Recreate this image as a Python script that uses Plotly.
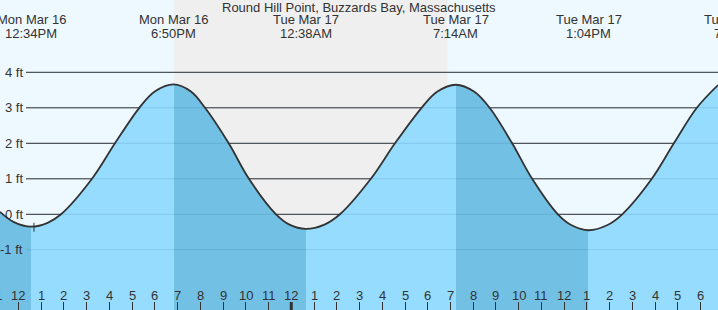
import plotly.graph_objects as go

# ---------------- data ----------------
# tide curve: hours since Mon Mar 16 00:00, height in ft
curve_hours = [11.196, 11.81, 12.567, 13.29, 13.88, 15.24, 16.25, 17.32, 18.00, 18.833,
               19.59, 20.21, 21.25, 22.14, 23.33, 23.92, 24.633, 25.46, 26.14, 27.50,
               28.56, 29.73, 30.41, 31.233, 32.05, 32.72, 33.71, 34.59, 35.72, 36.33,
               37.067, 37.88, 38.55, 39.85, 40.82, 41.83, 42.76]
curve_ft = [0.07, -0.22, -0.35, -0.24, 0.0, 1.0, 2.0, 3.0, 3.46, 3.66,
            3.46, 3.0, 2.0, 1.0, 0.0, -0.29, -0.41, -0.29, 0.0, 1.0,
            2.0, 3.0, 3.45, 3.65, 3.45, 3.0, 2.0, 1.0, 0.0, -0.31,
            -0.45, -0.31, 0.0, 1.0, 2.0, 3.0, 3.64]

# high / low tide events
event_hours = [12.567, 18.833, 24.633, 31.233, 37.067, 43.583]
event_days = ["Mon Mar 16", "Mon Mar 16", "Tue Mar 17", "Tue Mar 17", "Tue Mar 17", "Tue Mar 17"]
event_times = ["12:34PM", "6:50PM", "12:38AM", "7:14AM", "1:04PM", "7:35PM"]

sunset_hour = 18.84
sunrise_hour = 30.87
now_hour = 12.69
now_ft = -0.35

grid_ft = [-1, 0, 1, 2, 3, 4]
grid_labels = ["-1 ft", "0 ft", "1 ft", "2 ft", "3 ft", "4 ft"]

tick_hours = list(range(11, 43))
tick_labels = [str((h - 1) % 12 + 1) for h in tick_hours]
midnight_hour = 24

title_text = "Round Hill Point, Buzzards Bay, Massachusetts"

# ---------------- styling ----------------
W, H = 718, 310
X_RANGE = [11.196, 42.76]
Y_RANGE = [-2.696, 6.037]
BG = "#EEF8FF"
NIGHT = "#EFEFEF"
LIGHT = "#96DCFF"
DARK = "#72C0E4"
TXT = "#333333"
FONT = "Liberation Sans, Arial, sans-serif"
FS = 13


def py(px):
    return 1 - px / H


def pxx(px):
    return px / W


def frac(t):
    return (t - X_RANGE[0]) / (X_RANGE[1] - X_RANGE[0])


# colorscale for falling (dark) / rising (light) water
cs = [[0.0, DARK]]
col = DARK
for t in event_hours:
    if X_RANGE[0] < t < X_RANGE[1]:
        f = frac(t)
        cs.append([f, col])
        col = LIGHT if col == DARK else DARK
        cs.append([f, col])
cs.append([1.0, col])

fig = go.Figure()

# baseline for fill
fig.add_trace(go.Scatter(
    x=[curve_hours[0], curve_hours[-1]], y=[Y_RANGE[0] - 0.5, Y_RANGE[0] - 0.5],
    mode="lines", line=dict(width=0), hoverinfo="skip", showlegend=False))

fig.add_trace(go.Scatter(
    x=curve_hours, y=curve_ft, mode="lines",
    line=dict(color=TXT, width=1.8, shape="spline", smoothing=1.0),
    fill="tonexty",
    fillgradient=dict(type="horizontal", colorscale=cs,
                      start=X_RANGE[0], stop=X_RANGE[1]),
    hoverinfo="skip", showlegend=False))

shapes = []
# night shading
shapes.append(dict(type="rect", xref="x", yref="paper", x0=sunset_hour, x1=sunrise_hour,
                   y0=0, y1=1, fillcolor=NIGHT, line=dict(width=0), layer="below"))
# grid lines
for g in grid_ft:
    shapes.append(dict(type="line", xref="paper", yref="y", x0=pxx(26), x1=1, y0=g, y1=g,
                       line=dict(color=TXT, width=1), layer="below"))
    shapes.append(dict(type="line", xref="paper", yref="y", x0=pxx(26), x1=1, y0=g, y1=g,
                       line=dict(color="rgba(0,60,100,0.12)", width=1), layer="above"))
# midnight tick
shapes.append(dict(type="line", xref="x", yref="paper", x0=midnight_hour, x1=midnight_hour,
                   y0=0, y1=8 / H, line=dict(color=TXT, width=3)))
# current-time marker
shapes.append(dict(type="line", xref="x", yref="y", x0=now_hour, x1=now_hour,
                   y0=now_ft - 0.14, y1=now_ft + 0.11, line=dict(color=TXT, width=1)))

ann = []
ann.append(dict(text=title_text, xref="paper", yref="paper", x=0.5, y=py(7),
                xanchor="center", yanchor="middle", showarrow=False,
                font=dict(family=FONT, size=FS, color=TXT)))
for t, d, tm in zip(event_hours, event_days, event_times):
    if t <= X_RANGE[1]:
        xr, xv = "x", t
    else:
        xr, xv = "paper", frac(t)
    ann.append(dict(text=d, xref=xr, yref="paper", x=xv, y=py(20), xanchor="center",
                    yanchor="middle", showarrow=False, font=dict(family=FONT, size=FS, color=TXT)))
    ann.append(dict(text=tm, xref=xr, yref="paper", x=xv, y=py(33), xanchor="center",
                    yanchor="middle", showarrow=False, font=dict(family=FONT, size=FS, color=TXT)))
for g, lab in zip(grid_ft, grid_labels):
    ann.append(dict(text=lab, xref="paper", yref="y", x=pxx(24.5), y=g, xanchor="right",
                    yanchor="middle", showarrow=False, font=dict(family=FONT, size=FS, color=TXT)))
for h, lab in zip(tick_hours, tick_labels):
    if X_RANGE[0] <= h <= X_RANGE[1]:
        xr, xv = "x", h
    else:
        xr, xv = "paper", frac(h)
    ann.append(dict(text=lab, xref=xr, yref="paper", x=xv, y=py(295.5), xanchor="center",
                    yanchor="middle", showarrow=False, font=dict(family=FONT, size=FS, color=TXT)))

fig.update_layout(
    width=W, height=H, margin=dict(l=0, r=0, t=0, b=0),
    paper_bgcolor=BG, plot_bgcolor=BG,
    shapes=shapes, annotations=ann,
    xaxis=dict(range=X_RANGE, showgrid=False, zeroline=False, showline=False,
               ticks="inside", ticklen=8, tickwidth=1, tickcolor=TXT,
               tickvals=[h for h in tick_hours if X_RANGE[0] <= h <= X_RANGE[1]],
               showticklabels=False, fixedrange=True),
    yaxis=dict(range=Y_RANGE, showgrid=False, zeroline=False, showline=False,
               showticklabels=False, ticks="", fixedrange=True),
    showlegend=False,
)

fig.write_html("out.html", config={"displayModeBar": False})
